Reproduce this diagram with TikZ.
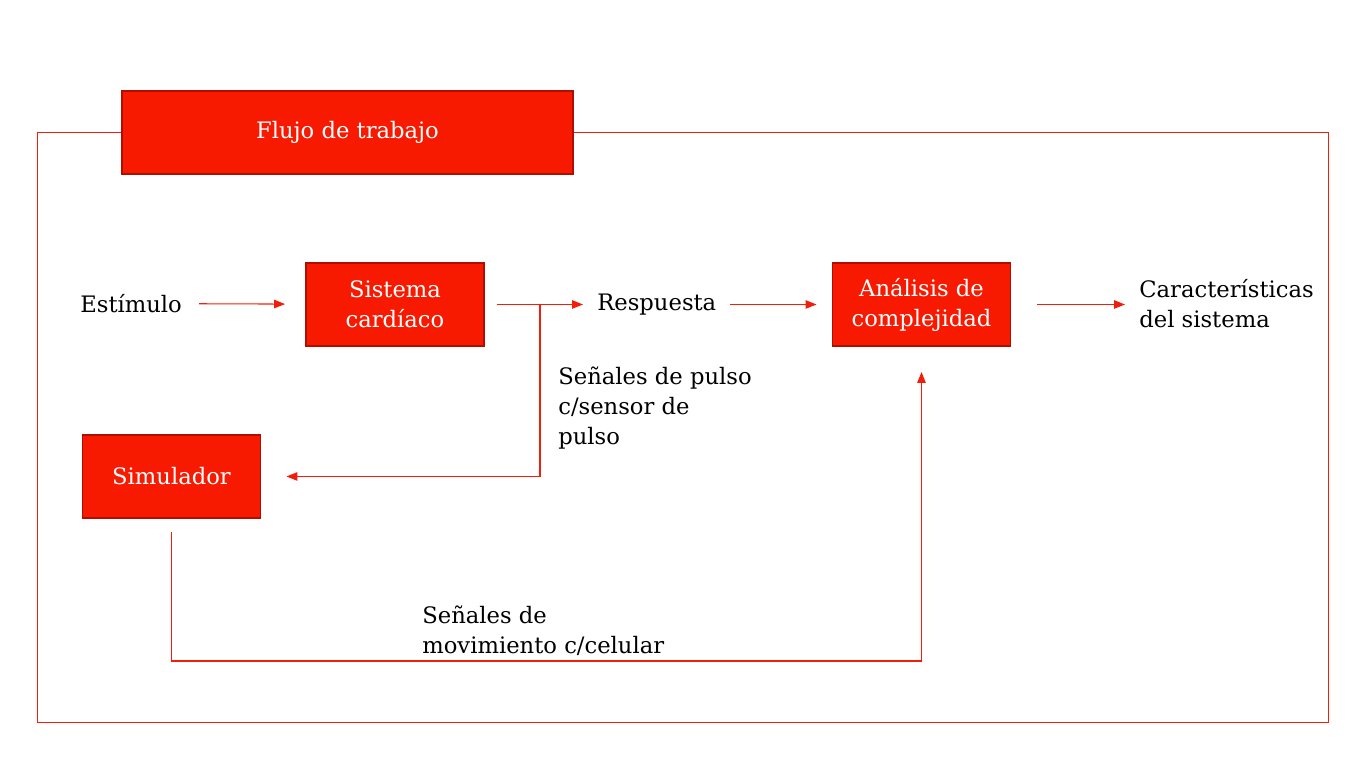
\documentclass[tikz,border=0pt]{standalone}
\usepackage{fontspec}
\setmainfont{DejaVu Serif}
\usepackage{tikz}
\usetikzlibrary{arrows.meta,calc}

\definecolor{boxred}{RGB}{247,26,0}
\definecolor{edgered}{RGB}{175,14,0}
\definecolor{linered}{RGB}{240,30,10}

\tikzset{
    redbox/.style={draw=edgered,line width=1.1pt,fill=boxred,text=white,
        minimum width=3.56cm,minimum height=1.66cm,align=center,inner sep=0pt,
        font=\fontsize{12.9}{17.1}\selectfont},
    plaintext/.style={inner sep=0pt,align=left,text=black,
        font=\fontsize{12.9}{17.1}\selectfont},
    flow/.style={draw=linered,line width=0.6pt,-{Triangle[length=0.22cm,width=0.17cm]}},
    wire/.style={draw=linered,line width=0.6pt}
}

\begin{document}
\begin{tikzpicture}
            \useasboundingbox (0,0) rectangle (27.32,15.36);
            % outer frame and title
            \draw[linered,line width=0.5pt] (0.74,0.92) rectangle (26.56,12.72);
            \node[redbox,minimum width=9.02cm] (title) at (6.95,12.71) {Flujo de trabajo};
            % blocks
            \node[redbox] (sis) at (7.9,9.27) {Sistema\\cardíaco};
            \node[redbox] (ana) at (18.43,9.27) {Análisis de\\complejidad};
            \node[redbox] (sim) at (3.43,5.83) {Simulador};
            % free texts
            \node[plaintext,anchor=west] (est) at (1.6,9.29) {Estímulo};
            \node[plaintext,anchor=west] (res) at (11.94,9.27) {Respuesta};
            \node[plaintext,anchor=west] (car) at (22.78,9.29) {Características\\del sistema};
            \node[plaintext,anchor=west] (pulso) at (11.16,7.2) {Señales de pulso\\c/sensor de\\pulso};
            \node[plaintext,anchor=west] (mov) at (8.44,2.74) {Señales de\\movimiento c/celular};
            % main chain
            \draw[flow,shorten <=0.34cm,shorten >=0.4cm] (est) -- (sis);
            \draw[flow,shorten <=0.24cm,shorten >=0.28cm] (sis) -- (res);
            \draw[flow,shorten <=0.26cm,shorten >=0.3cm] (res) -- (ana);
            \draw[flow,shorten <=0.52cm,shorten >=0.28cm] (ana) -- (ana -| car.west);
            % branches
            \coordinate (split) at (10.8,9.27);
            \coordinate (low) at (3.43,2.14);
            \draw[flow,shorten >=0.5cm] (split) |- (sim.east);
            \draw[flow,shorten <=0.26cm,shorten >=0.5cm] (sim.south) -- (low) -| (ana.south);
        \end{tikzpicture}
\end{document}
